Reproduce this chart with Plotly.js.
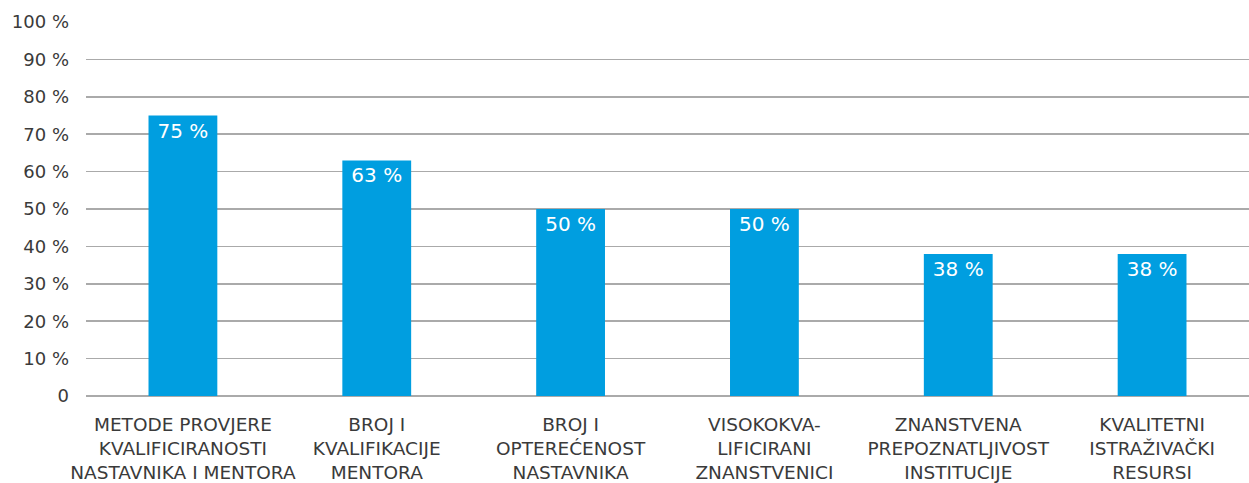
<!DOCTYPE html>
<html>
<head>
<meta charset="utf-8">
<script src="https://cdn.plot.ly/plotly-3.0.1.min.js"></script>
<style>html,body{margin:0;padding:0;background:#fff;}#chart{width:1249px;height:483px;}</style>
</head>
<body>
<div id="chart"></div>
<script>
var categories = [
  "METODE PROVJERE<br>KVALIFICIRANOSTI<br>NASTAVNIKA I MENTORA",
  "BROJ I<br>KVALIFIKACIJE<br>MENTORA",
  "BROJ I<br>OPTEREĆENOST<br>NASTAVNIKA",
  "VISOKOKVA-<br>LIFICIRANI<br>ZNANSTVENICI",
  "ZNANSTVENA<br>PREPOZNATLJIVOST<br>INSTITUCIJE",
  "KVALITETNI<br>ISTRAŽIVAČKI<br>RESURSI"
];
var values = [75, 63, 50, 50, 38, 38];
var yTickVals = [0, 10, 20, 30, 40, 50, 60, 70, 80, 90, 100];
var yTickText = ["0", "10 %", "20 %", "30 %", "40 %", "50 %", "60 %", "70 %", "80 %", "90 %", "100 %"];

var fontFam = "'DejaVu Sans', sans-serif";
var trace = {
  type: 'bar',
  x: categories,
  y: values,
  marker: {color: '#009ee0'},
  text: values.map(function(v){ return v + ' %'; }),
  textposition: 'inside',
  insidetextanchor: 'end',
  textangle: 0,
  textfont: {color: '#ffffff', size: 20, family: fontFam},
  hoverinfo: 'none'
};
var layout = {
  width: 1249, height: 483,
  margin: {l: 86, r: 0, t: 22, b: 87},
  paper_bgcolor: '#ffffff', plot_bgcolor: '#ffffff',
  showlegend: false,
  bargap: 0.645,
  font: {family: fontFam, color: '#3a3a3a'},
  xaxis: {
    type: 'category',
    showgrid: false, zeroline: false, showline: false,
    ticks: '', tickfont: {size: 18.5, color: '#3a3a3a', family: fontFam},
    ticklabelstandoff: 15
  },
  yaxis: {
    range: [0, 100],
    tickvals: yTickVals, ticktext: yTickText,
    showgrid: true, gridcolor: '#aaaaaa', gridwidth: 1.5,
    zeroline: true, zerolinecolor: '#aaaaaa', zerolinewidth: 1.5,
    showline: false, ticks: '',
    tickfont: {size: 18, color: '#3a3a3a', family: fontFam},
    ticklabelstandoff: 16
  }
};
Plotly.newPlot('chart', [trace], layout, {displayModeBar: false, staticPlot: true});
</script>
</body>
</html>
